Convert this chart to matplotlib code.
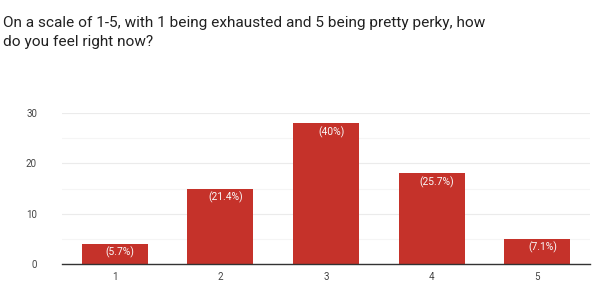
import matplotlib
matplotlib.use('Agg')
from matplotlib import pyplot as plt
import numpy as np

categories = ['1', '2', '3', '4', '5']
counts = [4, 15, 28, 18, 5]
percent_labels = ['(5.7%)', '(21.4%)', '(40%)', '(25.7%)', '(7.1%)']
y_ticks = [0, 10, 20, 30]

plt.rcParams['font.family'] = ['Roboto', 'DejaVu Sans']

fig = plt.figure(figsize=(6, 2.93), dpi=100)
fig.text(0.005, 0.945, 'On a scale of 1-5, with 1 being exhausted and 5 being pretty perky, how\ndo you feel right now?',
         fontsize=11.1, color='#212121', va='top', ha='left', linespacing=1.45)

ax = fig.add_axes([62 / 600, 1 - 264 / 293, 528 / 600, 151 / 293])
x = np.arange(len(categories))
bars = ax.bar(x, counts, width=0.625, color='#c5322a', zorder=3)
for b, lab in zip(bars, percent_labels):
    ax.text(b.get_x() + b.get_width() / 2 + 0.05, b.get_height() - 0.6, lab,
            ha='center', va='top', fontsize=7.4, color='#fafafa', zorder=4)

ax.set_xlim(-0.5, len(categories) - 0.5)
ax.set_ylim(0, 30)
ax.set_xticks(x)
ax.set_xticklabels(categories)
ax.set_yticks(y_ticks)
ax.set_yticks([5, 15, 25], minor=True)
ax.grid(axis='y', which='major', color='#ebebeb', linewidth=0.8, zorder=0)
ax.grid(axis='y', which='minor', color='#f5f5f5', linewidth=0.8, zorder=0)
ax.tick_params(axis='both', which='both', length=0, labelsize=7, colors='#444444')
ax.tick_params(axis='x', pad=6)
ax.tick_params(axis='y', pad=18)
for s in ['top', 'right', 'left']:
    ax.spines[s].set_visible(False)
ax.spines['bottom'].set_color('#333333')
ax.spines['bottom'].set_linewidth(1)
ax.spines['bottom'].set_zorder(5)

fig.savefig('out.png', dpi=100, facecolor='white')
